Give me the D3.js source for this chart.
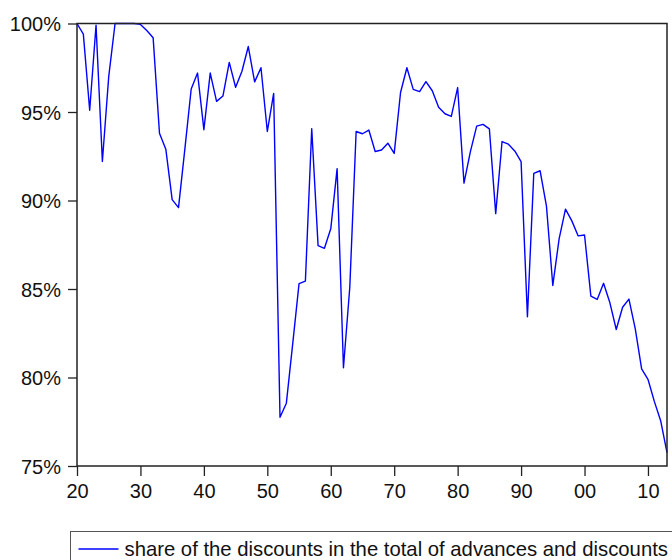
<!DOCTYPE html>
<html>
<head>
<meta charset="utf-8">
<script src="https://cdn.jsdelivr.net/npm/d3@7"></script>
<style>
	body	{ margin:0; background:#fff; }
	svg	{ display:block; font-family:"Liberation Sans", Arial, sans-serif; }
</style>
</head>
<body>
<div id="chart"></div>
<script>
var	years	= d3.range(1920, 2014),
	share	= [
		100, 99.4, 95.1, 99.9, 92.2, 97.0, 100, 100, 100, 100,
		99.95, 99.6, 99.2, 93.8, 92.9, 90.05, 89.6, 92.9, 96.3, 97.2,
		94.0, 97.2, 95.6, 95.9, 97.8, 96.4, 97.3, 98.7, 96.7, 97.5,
		93.9, 96.05, 77.75, 78.55, 81.9, 85.3, 85.45, 94.05, 87.45, 87.3,
		88.4, 91.8, 80.55, 85.1, 93.9, 93.77, 93.98, 92.77, 92.85, 93.24,
		92.66, 96.1, 97.5, 96.28, 96.15, 96.72, 96.2, 95.27, 94.9, 94.75,
		96.38, 90.98, 92.75, 94.2, 94.3, 94.05, 89.26, 93.33, 93.18, 92.8,
		92.2, 83.43, 91.53, 91.68, 89.68, 85.2, 87.85, 89.51, 88.85, 88.0,
		88.05, 84.6, 84.41, 85.32, 84.22, 82.71, 83.97, 84.43, 82.75, 80.49,
		79.9, 78.65, 77.56, 75.76
	],
	xTicks	= [1920, 1930, 1940, 1950, 1960, 1970, 1980, 1990, 2000, 2010],
	yTicks	= [75, 80, 85, 90, 95, 100],
	legendLabel	= "share of the discounts in the total of advances and discounts";

function shareChart(id) {
	var	W	= 672, H = 560,
		m	= {left:77, right:5, top:23.5, bottom:94},
		svg	= d3.select("#"+id).append("svg").attr("width", W).attr("height", H),
		x	= d3.scaleLinear().domain([1920, 2013]).range([m.left, W-m.right]),
		y	= d3.scaleLinear().domain([75, 100]).range([H-m.bottom, m.top]),
		data	= years.map(function(d, i) { return {year:d, value:share[i]}; }),
		line	= d3.line().x(function(d) { return x(d.year); }).y(function(d) { return y(d.value); });

	var xAxis = svg.append("g").attr("transform", "translate(0,"+y(75)+")")
		.call(d3.axisBottom(x).tickValues(xTicks).tickSize(10).tickPadding(6)
			.tickFormat(function(d) { return d3.format("02d")(d%100); }));
	var yAxis = svg.append("g").attr("transform", "translate("+x(1920)+",0)")
		.call(d3.axisLeft(y).tickValues(yTicks).tickSize(9).tickPadding(7)
			.tickFormat(function(d) { return d+"%"; }));
	[xAxis, yAxis].forEach(function(a) {
		a.select(".domain").remove();
		a.selectAll("line").attr("stroke", "#222").attr("stroke-width", 1.3);
		a.selectAll("text").attr("fill", "#111").style("font-size", "20px");
	});
	xAxis.selectAll("text").attr("dy", "0.8em");
	yAxis.selectAll("text").attr("dy", "0.36em");

	svg.append("path").datum(data)
		.attr("d", line)
		.attr("fill", "none")
		.attr("stroke", "#0000ff")
		.attr("stroke-width", 1.4)
		.attr("stroke-linejoin", "round");

	// plot frame
	svg.append("rect")
		.attr("x", x(1920)).attr("y", y(100))
		.attr("width", x(2013)-x(1920)).attr("height", y(75)-y(100))
		.attr("fill", "none").attr("stroke", "#222").attr("stroke-width", 1.5);

	// legend
	var lg = svg.append("g").attr("transform", "translate(70.5,531.5)");
	lg.append("rect").attr("width", 640).attr("height", 60)
		.attr("fill", "none").attr("stroke", "#555").attr("stroke-width", 1);
	lg.append("line").attr("x1", 8).attr("x2", 48).attr("y1", 17.5).attr("y2", 17.5)
		.attr("stroke", "#0000ff").attr("stroke-width", 1.5);
	lg.append("text").attr("x", 54).attr("y", 24.5)
		.style("font-size", "20.3px").attr("fill", "#111")
		.text(legendLabel);
}

shareChart("chart");
</script>
</body>
</html>
